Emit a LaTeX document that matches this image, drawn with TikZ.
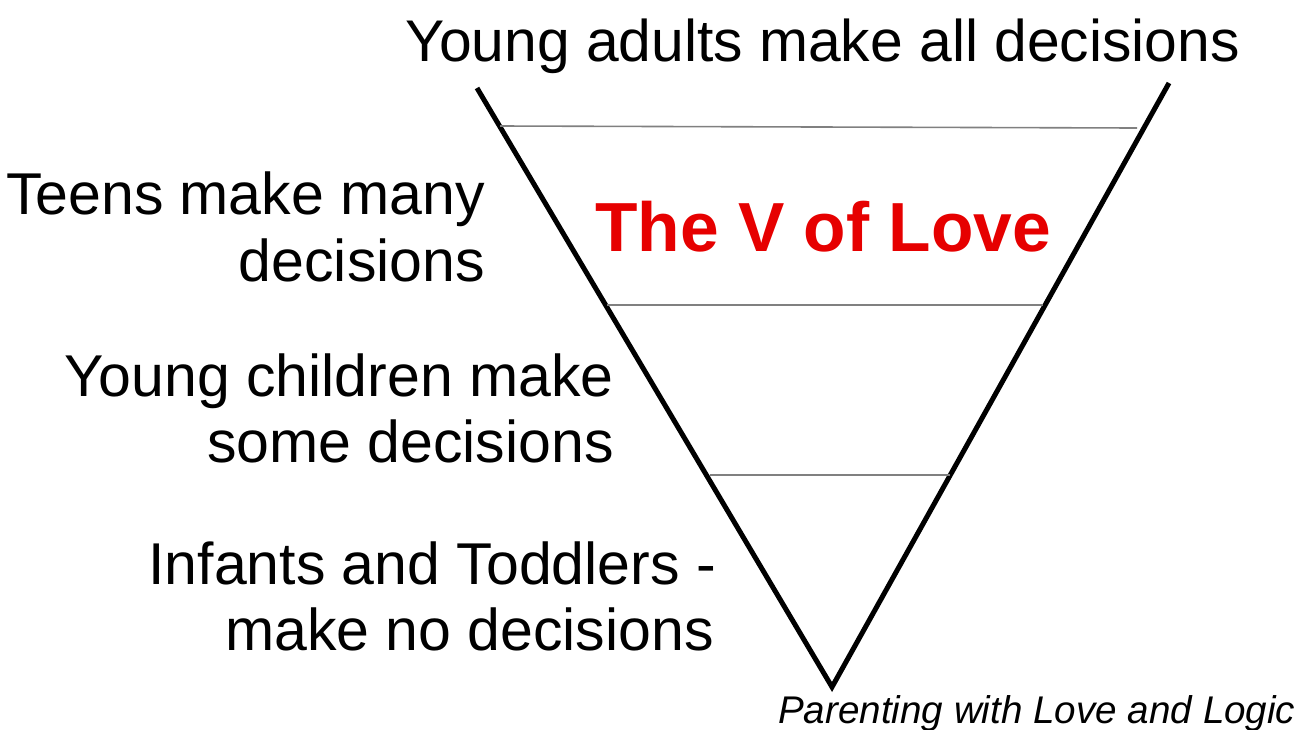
\documentclass[tikz,border=0pt]{standalone}
\usepackage{fontspec}
\setmainfont{Liberation Sans}
\definecolor{lovered}{RGB}{230,0,0}
\definecolor{bandgray}{RGB}{128,128,128}
\begin{document}
\begin{tikzpicture}[x=1pt,y=-1pt,
  lbl/.style={inner sep=0pt, font=\fontsize{59}{59}\selectfont, anchor=base east},
  vline/.style={line width=5pt, black, line join=miter},
  band/.style={line width=1.6pt, bandgray}]
\useasboundingbox (0,0) rectangle (1301,729);
% V shape
\coordinate (vl) at (477,88);
\coordinate (vb) at (832,687);
\coordinate (vr) at (1169,83);
\draw[vline] (vl) -- (vb) -- (vr);
% band lines
\coordinate (b1l) at (500,126);
\coordinate (b1r) at (1137,128);
\coordinate (b2l) at (607,305);
\coordinate (b2r) at (1043,305);
\coordinate (b3l) at (710,475);
\coordinate (b3r) at (950,475);
\draw[band] (b1l) -- (b1r);
\draw[band] (b2l) -- (b2r);
\draw[band] (b3l) -- (b3r);
% labels
\node[inner sep=0pt, font=\fontsize{58.8}{58.8}\selectfont, anchor=base] (top) at (822.5,61) {Young adults make all decisions};
\node[lbl] (teensA) at (485,214) {Teens make many};
\node[lbl] (teensB) at (485,281) {decisions};
\node[lbl] (youngA) at (614,396) {Young children make};
\node[lbl] (youngB) at (614,462) {some decisions};
\node[lbl] (infA) at (716,584) {Infants and Toddlers -};
\node[lbl] (infB) at (714,650) {make no decisions};
\node[inner sep=0pt, font=\fontsize{69.5}{69.5}\selectfont\bfseries, text=lovered, anchor=base west] (title) at (595,251) {The V of Love};
\node[inner sep=0pt, font=\fontsize{38.6}{38.6}\selectfont\itshape, anchor=base west] (src) at (778,723) {Parenting with Love and Logic};
\end{tikzpicture}
\end{document}
